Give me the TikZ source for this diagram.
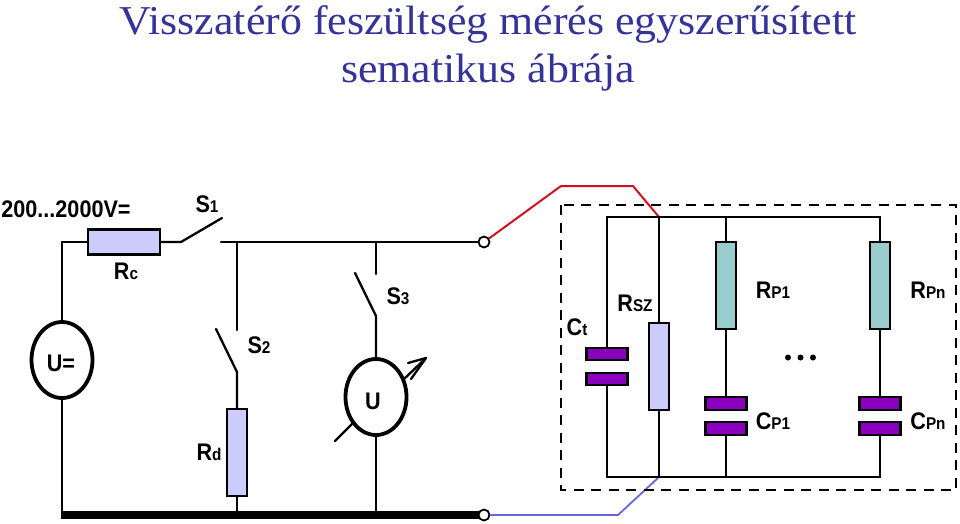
\documentclass[tikz,border=0pt]{standalone}
\usepackage{fontspec}
\setmainfont[FakeStretch=1.07]{Liberation Serif}
\newfontfamily\lab[FakeStretch=0.9]{Liberation Sans Bold}
\definecolor{lil}{HTML}{CCCCFF}
\definecolor{teal2}{HTML}{99CCCC}
\definecolor{purp}{HTML}{8A00BE}
\definecolor{ttl}{HTML}{333399}
\definecolor{redw}{HTML}{D01020}
\definecolor{bluew}{HTML}{6666D8}
\newcommand{\rs}[2]{#1{\fontsize{17}{17}\selectfont #2}}
\tikzset{
 wire/.style={line width=2.3pt,black,line cap=round},
 vres/.style={draw=black,line width=2.3pt,inner sep=0pt,minimum width=20.5pt,minimum height=87pt},
 hres/.style={draw=black,line width=2.3pt,inner sep=0pt,minimum width=72pt,minimum height=25pt,fill=lil},
 plate/.style={draw=black,line width=2.3pt,fill=purp,inner sep=0pt,minimum width=41pt,minimum height=12.5pt},
 meter/.style={draw=black,line width=3.8pt,ellipse,inner sep=0pt,minimum width=61pt,minimum height=76pt},
 term/.style={draw=black,line width=1.8pt,fill=white,circle,inner sep=0pt,minimum size=11pt},
 lbl/.style={font=\lab\fontsize{24}{26}\selectfont,inner sep=0pt,anchor=base},
 dotb/.style={circle,fill=black,inner sep=0pt,minimum size=6pt}
}
\usetikzlibrary{shapes.geometric,arrows.meta}
\begin{document}
\begin{tikzpicture}[x=1pt,y=-1pt]
\useasboundingbox (0,0) rectangle (960,523);
\node[text=ttl,font=\fontsize{41}{48}\selectfont,align=center,inner sep=0pt] (title) at (488,48) {Visszatérő feszültség mérés egyszerűsített\\sematikus ábrája};
% coordinates
\coordinate (TL) at (62,242);
\coordinate (BL) at (62,515);
\coordinate (S1a) at (181,242);
\coordinate (S1b) at (222,218);
\coordinate (Bus1) at (221,242);
\coordinate (J2) at (237,242);
\coordinate (S2t) at (237,330);
\coordinate (S2o) at (216,329);
\coordinate (S2b) at (237,372);
\coordinate (J2b) at (237,515);
\coordinate (J3) at (376,242);
\coordinate (S3t) at (376,274);
\coordinate (S3o) at (355,273);
\coordinate (S3b) at (376,316);
\coordinate (J3b) at (376,515);
\coordinate (R1) at (561,186);
\coordinate (R2) at (633,186);
\coordinate (BB) at (618,515);
\coordinate (A) at (607,217);
\coordinate (B) at (659,217);
\coordinate (C) at (726,217);
\coordinate (D) at (880,217);
\coordinate (E) at (607,477);
\coordinate (F) at (659,477);
\coordinate (G) at (726,477);
\coordinate (H) at (880,477);
\coordinate (Ar0) at (404,379);
\coordinate (Ar1) at (426,358);
\coordinate (Tl0) at (335,441);
\coordinate (Tl1) at (353,423);
% elements
\node[hres] (Rc) at (124,242) {};
\node[vres,fill=lil] (Rd) at (237,452.5) {};
\node[vres,fill=lil] (Rsz) at (659,366.5) {};
\node[vres,fill=teal2] (Rp1) at (726,285.5) {};
\node[vres,fill=teal2] (Rpn) at (880,285.5) {};
\node[plate] (Ct1) at (607,354) {};
\node[plate] (Ct2) at (607,379) {};
\node[plate] (Cp1a) at (726,403.5) {};
\node[plate] (Cp1b) at (726,428.5) {};
\node[plate] (Cpna) at (880,403.5) {};
\node[plate] (Cpnb) at (880,428.5) {};
\node[meter] (Us) at (62,360) {};
\node[meter] (Um) at (376,397) {};
% wires
\draw[wire] (Us.north) -- (TL) -- (Rc.west);
\draw[wire] (Rc.east) -- (S1a) -- (S1b);
\draw[wire] (Bus1) -- (480,242);
\draw[wire] (J2) -- (S2t);
\draw[wire] (S2o) -- (S2b) -- (Rd.north);
\draw[wire] (Rd.south) -- (J2b);
\draw[wire] (J3) -- (S3t);
\draw[wire] (S3o) -- (S3b) -- (Um.north);
\draw[wire] (Um.south) -- (J3b);
\draw[wire] (Us.south) -- (BL);
\draw[line width=8.5pt,black] (61,515) -- (480,515);
\node[term] (T1) at (484,242) {};
\node[term] (T2) at (484,515) {};
\draw[line width=2pt,redw] (T1) ++(5,-3.5) -- (R1) -- (R2) -- (B);
\draw[line width=1.8pt,bluew] (T2.east) -- (BB) -- (F);
\draw[wire] (A) -- (D) -- (Rpn.north);
\draw[wire] (A) -- (Ct1.north);
\draw[wire] (Ct2.south) -- (E) -- (H) -- (Cpnb.south);
\draw[wire] (B) -- (Rsz.north);
\draw[wire] (Rsz.south) -- (F);
\draw[wire] (C) -- (Rp1.north);
\draw[wire] (Rp1.south) -- (Cp1a.north);
\draw[wire] (Cp1b.south) -- (G);
\draw[wire] (Rpn.south) -- (Cpna.north);
\draw[wire] (Ar0) -- (Ar1);
\draw[wire] (Ar1) -- (408,363);
\draw[wire] (Ar1) -- (411,379);
\draw[wire] (Tl0) -- (Tl1);
\draw[line width=2.3pt,dash pattern=on 10pt off 7.5pt] (561,205) rectangle (956,490);
\node[dotb] (d1) at (788,357.5) {};
\node[dotb] (d2) at (800.5,357.5) {};
\node[dotb] (d3) at (813,357.5) {};
% labels
\node[lbl] (lv) at (66,217) {200...2000V=};
\node[lbl] (l1) at (207,212) {\rs{S}{1}};
\node[lbl] (lc) at (126,279) {\rs{R}{c}};
\node[lbl] (l2) at (259,353) {\rs{S}{2}};
\node[lbl] (l3) at (398,304) {\rs{S}{3}};
\node[lbl] (ld) at (209,460) {\rs{R}{d}};
\node[lbl] (lu) at (61,371) {U=};
\node[lbl] (lm) at (373,409) {U};
\node[lbl] (lt) at (577,335) {\rs{C}{t}};
\node[lbl] (ls) at (635,311) {\rs{R}{SZ}};
\node[lbl] (lp1) at (773,298) {\rs{R}{P1}};
\node[lbl] (lpn) at (928,298) {\rs{R}{Pn}};
\node[lbl] (lc1) at (773,429) {\rs{C}{P1}};
\node[lbl] (lcn) at (928,429) {\rs{C}{Pn}};
\end{tikzpicture}
\end{document}
